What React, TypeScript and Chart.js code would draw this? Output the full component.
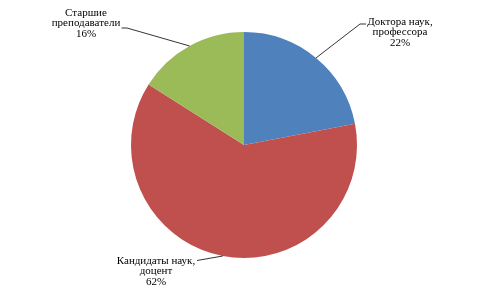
import React, { useEffect, useRef } from "react";
import { Chart, registerables } from "chart.js";

Chart.register(...registerables);

const categories: string[][] = [
  ["Доктора наук,", "профессора"],
  ["Кандидаты наук,", "доцент"],
  ["Старшие", "преподаватели"],
];
const values: number[] = [22, 62, 16];
const colors: string[] = ["#4F81BD", "#C0504D", "#9BBB59"];

// label placement: text centre x, first line centre y, elbow point, horizontal end
const labelPlacement = [
  { tx: 400, ty: 22, ex: 360, ey: 24, hx: 366 },
  { tx: 156, ty: 261, ex: 197, ey: 260.5, hx: 197 },
  { tx: 86, ty: 13, ex: 127, ey: 28, hx: 121.5 },
];

const labelPlugin = {
  id: "leaderLabels",
  afterDraw(chart: any) {
    const ctx = chart.ctx;
    const meta = chart.getDatasetMeta(0);
    const data = chart.data.datasets[0].data as number[];
    const total = data.reduce((a, b) => a + b, 0);
    ctx.save();
    ctx.font = "11px 'Liberation Serif', 'Times New Roman', serif";
    ctx.fillStyle = "#000";
    ctx.strokeStyle = "#000";
    ctx.lineWidth = 0.8;
    ctx.textAlign = "center";
    ctx.textBaseline = "middle";
    meta.data.forEach((arc: any, i: number) => {
      const p = labelPlacement[i];
      const mid = (arc.startAngle + arc.endAngle) / 2;
      const ax = arc.x + Math.cos(mid) * arc.outerRadius;
      const ay = arc.y + Math.sin(mid) * arc.outerRadius;
      ctx.beginPath();
      ctx.moveTo(ax, ay);
      ctx.lineTo(p.ex, p.ey);
      ctx.lineTo(p.hx, p.ey);
      ctx.stroke();
      const lines = [...(chart.data.labels[i] as string[]), Math.round((data[i] / total) * 100) + "%"];
      lines.forEach((t, k) => ctx.fillText(t, p.tx, p.ty + k * 10.5));
    });
    ctx.restore();
  },
};

export default function App() {
  const ref = useRef<HTMLCanvasElement>(null);
  useEffect(() => {
    if (!ref.current) return;
    const chart = new Chart(ref.current, {
      type: "pie",
      data: {
        labels: categories as any,
        datasets: [
          {
            data: values,
            backgroundColor: colors,
            borderWidth: 0,
          },
        ],
      },
      options: {
        responsive: false,
        animation: false,
        layout: { padding: { top: 32, bottom: 42, left: 94, right: 106 } },
        plugins: {
          legend: { display: false },
          tooltip: { enabled: false },
        },
      },
      plugins: [labelPlugin],
    });
    return () => chart.destroy();
  }, []);
  return (
    <div style={{ position: "absolute", left: 0, top: 0, width: 500, height: 300, background: "#fff" }}>
      <canvas ref={ref} width={500} height={300} />
    </div>
  );
}
